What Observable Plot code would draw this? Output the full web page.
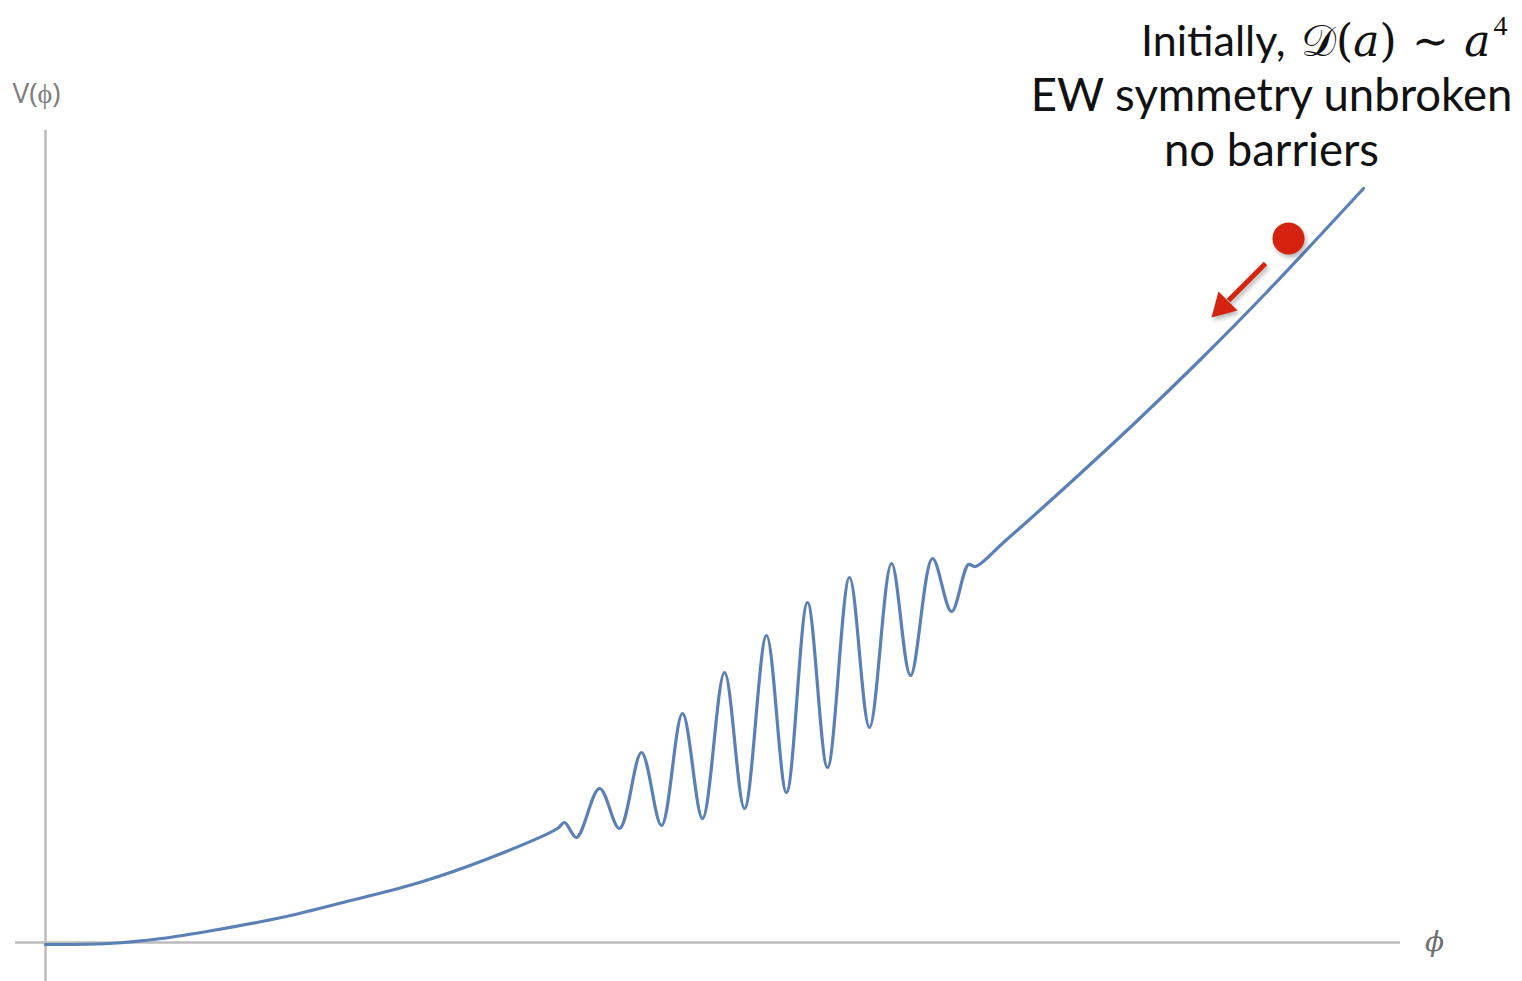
<!DOCTYPE html>
<html>
<head>
<meta charset="utf-8">
<script src="https://cdn.jsdelivr.net/npm/d3@7"></script>
<script src="https://cdn.jsdelivr.net/npm/@observablehq/plot@0.6"></script>
<style>
  html, body { margin: 0; padding: 0; background: #fff; }
  #chart svg { display: block; }
</style>
</head>
<body>
<div id="chart"></div>
<script>
// Potential V(φ): smooth rise, a band of growing wiggles, then a steady climb.
const phi = [
  0.00, 0.64, 1.16, 1.67, 2.36, 3.05, 3.74, 4.43, 5.12, 5.19, 5.31,
  5.54, 5.74, 5.96, 6.16, 6.37, 6.57, 6.79, 6.99, 7.21, 7.41,
  7.62, 7.82, 8.04, 8.24, 8.46, 8.65, 8.87, 9.06, 9.23, 9.30,
  9.58, 10.25, 10.92, 11.55, 12.20, 13.18
];
const V = [
  -0.02, -0.01, 0.04, 0.12, 0.25, 0.42, 0.60, 0.84, 1.14, 1.20, 1.05,
  1.54, 1.14, 1.90, 1.17, 2.29, 1.24, 2.70, 1.34, 3.07, 1.50,
  3.40, 1.75, 3.65, 2.15, 3.79, 2.67, 3.84, 3.31, 3.78, 3.76,
  4.00, 4.60, 5.22, 5.83, 6.49, 7.54
];

// Axis extents
const phiAxisSpan = [-0.30, 13.55];
const vAxisSpan = [-0.40, 8.12];

// Ball resting on the slope, and the arrow showing where it rolls
const ballPhi = [12.43];
const ballV = [7.04];
const arrowTail = [12.20, 6.79];
const arrowBase = [11.83, 6.42];
const arrowHead = [11.77, 6.36];

// Annotation text
const noteIntro = "Initially,";
const noteMath = "𝒟(𝑎)\u2005\u200A∼\u2005\u200A𝑎";
const noteExponent = "4";
const noteLines = ["EW symmetry unbroken", "no barriers"];

const curve = phi.map((p, i) => ({phi: p, V: V[i]}));
const red = "#d5230f";
const blue = "#5b80b6";
const axisGray = "#bcbcbc";

const chart = Plot.plot({
  width: 1522,
  height: 981,
  margin: 0,
  x: {domain: [-0.45, 14.77], axis: null},
  y: {domain: [-0.39, 9.42], axis: null},
  style: {background: "#fff"},
  marks: [
    Plot.ruleY([0], {x1: phiAxisSpan[0], x2: phiAxisSpan[1], stroke: axisGray, strokeWidth: 2.5}),
    Plot.ruleX([0], {y1: vAxisSpan[0], y2: vAxisSpan[1], stroke: axisGray, strokeWidth: 2.5}),
    Plot.line(curve, {x: "phi", y: "V", curve: "catmull-rom", stroke: blue, strokeWidth: 3.2}),
    Plot.link([0], {x1: [arrowTail[0]], y1: [arrowTail[1]], x2: [arrowBase[0]], y2: [arrowBase[1]], stroke: red, strokeWidth: 5}),
    Plot.dot([0], {x: [arrowHead[0]], y: [arrowHead[1]], symbol: "triangle", r: 10, rotate: 225, fill: red, stroke: "none"}),
    Plot.dot([0], {x: ballPhi, y: ballV, r: 16, fill: red, stroke: "none"}),
    // axis labels
    Plot.text(["V(ϕ)"], {frameAnchor: "top-left", dx: 12, dy: 102, textAnchor: "start", lineAnchor: "bottom",
      fontSize: 28, fill: "#7d7d7d", fontFamily: "Open Sans"}),
    Plot.text(["ϕ"], {x: [phiAxisSpan[1]], y: [0], dx: 34, textAnchor: "middle", lineAnchor: "middle",
      fontSize: 28, fontStyle: "italic", fill: "#6f6f6f", fontFamily: "DejaVu Serif"}),
    // annotation
    Plot.text([noteIntro], {frameAnchor: "top-right", dx: -237, dy: 55, textAnchor: "end", lineAnchor: "bottom",
      fontSize: 43, fill: "#111", fontFamily: "Lato"}),
    Plot.text([noteMath], {frameAnchor: "top-right", dx: -32, dy: 55, textAnchor: "end", lineAnchor: "bottom",
      fontSize: 44, fill: "#111", fontFamily: "DejaVu Serif"}),
    Plot.text([noteExponent], {frameAnchor: "top-right", dx: -15, dy: 34, textAnchor: "end", lineAnchor: "bottom",
      fontSize: 28, fill: "#111", fontFamily: "Liberation Serif"}),
    Plot.text([noteLines[0]], {frameAnchor: "top-left", dx: 1271, dy: 110, textAnchor: "middle", lineAnchor: "bottom",
      fontSize: 45.5, fill: "#111", fontFamily: "Lato"}),
    Plot.text([noteLines[1]], {frameAnchor: "top-left", dx: 1271, dy: 165, textAnchor: "middle", lineAnchor: "bottom",
      fontSize: 45.5, fill: "#111", fontFamily: "Lato"})
  ]
});

// soft shadow under the ball and the arrow
d3.select(chart).selectAll("g[aria-label=dot], g[aria-label=link]")
  .style("filter", "drop-shadow(2px 3px 2px rgba(0,0,0,0.28))");

document.getElementById("chart").append(chart);
</script>
</body>
</html>
